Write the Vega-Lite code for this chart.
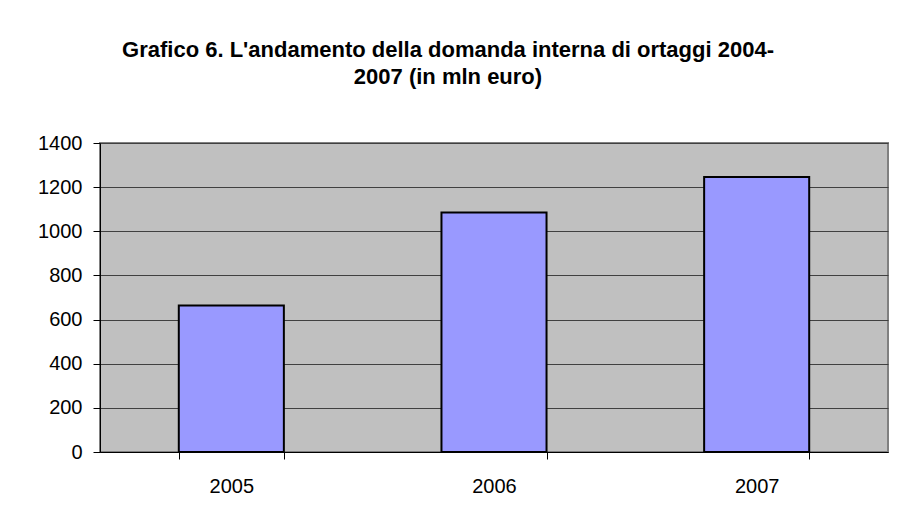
{
  "$schema": "https://vega.github.io/schema/vega-lite/v6.json",
  "width": 788,
  "height": 309,
  "autosize": "none",
  "padding": {"left": 100, "top": 143, "right": 12, "bottom": 67},
  "background": "white",
  "title": {
    "text": ["Grafico 6. L'andamento della domanda interna di ortaggi 2004-", "2007 (in mln euro)"],
    "font": "Liberation Sans",
    "fontSize": 22,
    "fontWeight": "bold",
    "color": "black",
    "anchor": "middle",
    "frame": "group",
    "dx": -46,
    "offset": 44,
    "lineHeight": 27
  },
  "data": {
    "values": [
      {"anno": "2005", "valore": 664},
      {"anno": "2006", "valore": 1085},
      {"anno": "2007", "valore": 1246}
    ]
  },
  "mark": {"type": "bar", "color": "#9999FF", "stroke": "black", "strokeWidth": 2},
  "encoding": {
    "x": {
      "field": "anno",
      "type": "ordinal",
      "title": null,
      "scale": {"paddingInner": 0.6, "paddingOuter": 0.3},
      "axis": {
        "labelAngle": 0,
        "labelFont": "Liberation Sans",
        "labelFontSize": 20,
        "labelColor": "black",
        "labelPadding": 17,
        "tickBand": "extent",
        "tickSize": 7,
        "tickColor": "black",
        "domainColor": "black",
        "domainWidth": 1,
        "grid": false
      }
    },
    "y": {
      "field": "valore",
      "type": "quantitative",
      "title": null,
      "scale": {"domain": [0, 1400], "nice": false},
      "axis": {
        "values": [0, 200, 400, 600, 800, 1000, 1200, 1400],
        "format": "d",
        "labelFont": "Liberation Sans",
        "labelFontSize": 20,
        "labelColor": "black",
        "labelPadding": 11,
        "tickSize": 7,
        "tickColor": "black",
        "domainColor": "black",
        "gridColor": "#404040",
        "gridWidth": 1,
        "gridOpacity": 1
      }
    }
  },
  "config": {
    "view": {"fill": "#C0C0C0", "stroke": "#808080", "strokeWidth": 2}
  }
}
